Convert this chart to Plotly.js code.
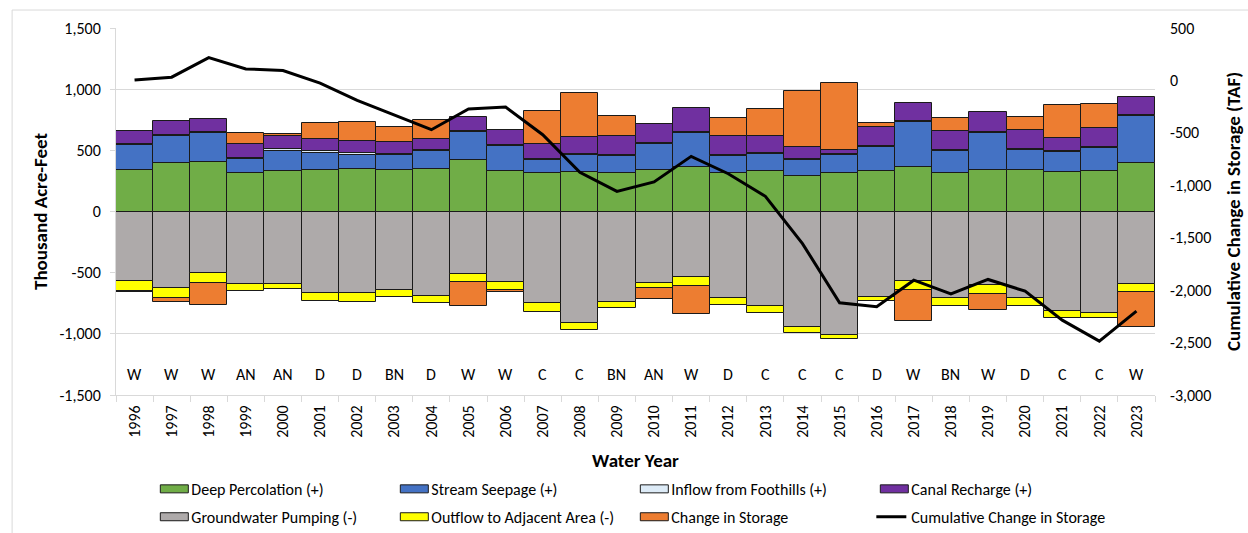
<!DOCTYPE html>
<html>
<head>
<meta charset="utf-8">
<script src="https://cdn.plot.ly/plotly-3.0.1.min.js"></script>
<style>
  html, body { margin: 0; padding: 0; background: #ffffff; }
  #chart { width: 1248px; height: 533px; }
</style>
</head>
<body>
<div id="chart"></div>
<script>
// ---- Data (thousand acre-feet) ----
const years = ['1996','1997','1998','1999','2000','2001','2002','2003','2004','2005',
               '2006','2007','2008','2009','2010','2011','2012','2013','2014','2015',
               '2016','2017','2018','2019','2020','2021','2022','2023'];

const yearTypes = ['W','W','W','AN','AN','D','D','BN','D','W',
                   'W','C','C','BN','AN','W','D','C','C','C',
                   'D','W','BN','W','D','C','C','W'];

const deepPercolation = [343,397,408,311,335,343,351,343,351,424,
                         330,311,319,311,343,365,311,330,289,311,
                         330,365,311,343,343,319,330,397];

const streamSeepage = [198,222,235,121,162,138,114,122,141,225,
                       205,113,140,143,211,278,143,143,130,154,
                       197,365,181,300,157,168,189,384];

const inflowFoothills = [8,8,8,8,15,12,10,8,8,8,
                         8,8,8,8,8,8,8,8,8,8,
                         8,8,8,8,8,8,8,8];

const canalRecharge = [108,116,106,109,104,102,101,95,95,119,
                       125,122,141,152,154,192,152,133,100,32,
                       154,151,154,160,162,108,154,149];

const groundwaterPumping = [-568,-622,-505,-595,-589,-670,-670,-641,-689,-514,
                            -576,-749,-911,-743,-581,-532,-703,-776,-941,-1008,
                            -695,-568,-711,-603,-711,-814,-830,-589];

const outflowAdjacent = [-81,-89,-76,-54,-46,-60,-68,-54,-62,-59,
                         -67,-75,-57,-44,-43,-76,-62,-54,-51,-38,
                         -35,-75,-59,-73,-65,-56,-40,-73];

const changeInStorage = [-10,-27,-181,94,19,129,159,121,156,-203,
                         -19,270,357,170,-92,-230,151,221,462,546,
                         35,-249,111,-129,106,267,197,-279];

const cumulativeChange = [5,31,218,110,94,-26,-191,-330,-470,-273,
                          -254,-518,-877,-1058,-968,-724,-890,-1105,-1556,-2120,
                          -2158,-1905,-2035,-1898,-2010,-2286,-2486,-2200];

const leftTicks = [-1500,-1000,-500,0,500,1000,1500];
const leftTickText = ['-1,500','-1,000','-500','0','500','1,000','1,500'];
const rightTicks = [-3000,-2500,-2000,-1500,-1000,-500,0,500];
const rightTickText = ['-3,000','-2,500','-2,000','-1,500','-1,000','-500','0','500'];

// ---- Styling ----
const FONT = "Carlito, Calibri, 'Liberation Sans', Arial, sans-serif";
const edge = {color: '#1a1a1a', width: 1};

function barTrace(name, y, color, legendId) {
  return {
    type: 'bar', name: name, x: years, y: y, legend: legendId,
    marker: {color: color, line: edge},
    hoverinfo: 'x+y+name'
  };
}

const traces = [
  barTrace('Deep Percolation (+)', deepPercolation, '#70AD47', 'legend'),
  barTrace('Stream Seepage (+)', streamSeepage, '#4472C4', 'legend'),
  barTrace('Inflow from Foothills (+)', inflowFoothills, '#DDEBF7', 'legend'),
  barTrace('Canal Recharge (+)', canalRecharge, '#7030A0', 'legend'),
  barTrace('Groundwater Pumping (-)', groundwaterPumping, '#AEAAAA', 'legend2'),
  barTrace('Outflow to Adjacent Area (-)', outflowAdjacent, '#FFFF00', 'legend2'),
  barTrace('Change in Storage', changeInStorage, '#ED7D31', 'legend2'),
  {
    type: 'scatter', mode: 'lines', name: 'Cumulative Change in Storage',
    x: years, y: cumulativeChange, yaxis: 'y2', legend: 'legend2',
    line: {color: '#000000', width: 3}
  }
];

// water-year type letters, placed by category index
const annotations = yearTypes.map((t, i) => ({
  x: i, y: -1330, xref: 'x', yref: 'y', text: t,
  showarrow: false, font: {family: FONT, size: 16, color: '#000'}
}));

const legendBase = {
  orientation: 'h', x: 0.034, xanchor: 'left', yanchor: 'middle',
  entrywidth: 195, entrywidthmode: 'pixels',
  font: {family: FONT, size: 16, color: '#000'},
  traceorder: 'normal', bgcolor: 'rgba(0,0,0,0)'
};

const layout = {
  width: 1248, height: 533,
  margin: {l: 116, r: 93, t: 28, b: 138, autoexpand: false},
  paper_bgcolor: '#ffffff', plot_bgcolor: '#ffffff',
  font: {family: FONT, size: 16, color: '#000'},
  barmode: 'relative', bargap: 0,
  showlegend: true,
  xaxis: {
    type: 'category', tickangle: -90,
    range: [-0.5, years.length - 0.5],
    tickson: 'boundaries', ticks: 'outside', ticklen: 6, tickcolor: '#d9d9d9',
    showline: true, linecolor: '#d9d9d9', linewidth: 1,
    showgrid: false, zeroline: false, ticklabelstandoff: 3,
    tickfont: {family: FONT, size: 16, color: '#000'},
    title: {text: '<b>Water Year</b>', font: {family: FONT, size: 19, color: '#000'}, standoff: 16},
    automargin: false
  },
  yaxis: {
    range: [-1500, 1500], tickvals: leftTicks, ticktext: leftTickText,
    showgrid: true, gridcolor: '#d9d9d9', gridwidth: 1,
    zeroline: true, zerolinecolor: '#1a1a1a', zerolinewidth: 1,
    showline: true, linecolor: '#d9d9d9', ticks: 'outside', ticklen: 5, tickcolor: '#d9d9d9',
    ticklabelstandoff: 6,
    tickfont: {family: FONT, size: 16, color: '#000'},
    title: {text: '<b>Thousand Acre-Feet</b>', font: {family: FONT, size: 19, color: '#000'}, standoff: 6},
    automargin: false
  },
  yaxis2: {
    overlaying: 'y', side: 'right',
    range: [-3000, 500], tickvals: rightTicks, ticktext: rightTickText,
    showgrid: false, zeroline: false, showline: false, ticks: '',
    ticklabelstandoff: 14,
    tickfont: {family: FONT, size: 16, color: '#000'},
    title: {text: '<b>Cumulative Change in Storage (TAF)</b>', font: {family: FONT, size: 19, color: '#000'}, standoff: 16},
    automargin: false
  },
  legend: Object.assign({}, legendBase, {y: -0.256}),
  legend2: Object.assign({}, legendBase, {y: -0.332}),
  annotations: annotations,
  shapes: [
    {type: 'line', xref: 'paper', yref: 'paper', x0: -0.1, x1: -0.1, y0: -0.4, y1: 1.049,
     line: {color: '#d9d9d9', width: 1}},
    {type: 'line', xref: 'paper', yref: 'paper', x0: -0.1, x1: 1.1, y0: 1.049, y1: 1.049,
     line: {color: '#d9d9d9', width: 1}}
  ]
};

const gd = document.getElementById('chart');

// widen the legend swatches of the bar series into flat rectangles, like the reference
function widenSwatches() {
  gd.querySelectorAll('.legendpoints path').forEach(p => {
    const d = (p.getAttribute('d') || '').replace(/\s/g, '');
    if (p.classList.contains('legendbar') || d.indexOf('M6,6H-6V-6H6Z') === 0) {
      p.setAttribute('d', 'M17,4H-11V-4H17Z');
    }
  });
}

Plotly.newPlot(gd, traces, layout, {displayModeBar: false, responsive: false}).then(() => {
  widenSwatches();
  setTimeout(widenSwatches, 0);
  gd.on('plotly_afterplot', widenSwatches);
});
</script>
</body>
</html>
